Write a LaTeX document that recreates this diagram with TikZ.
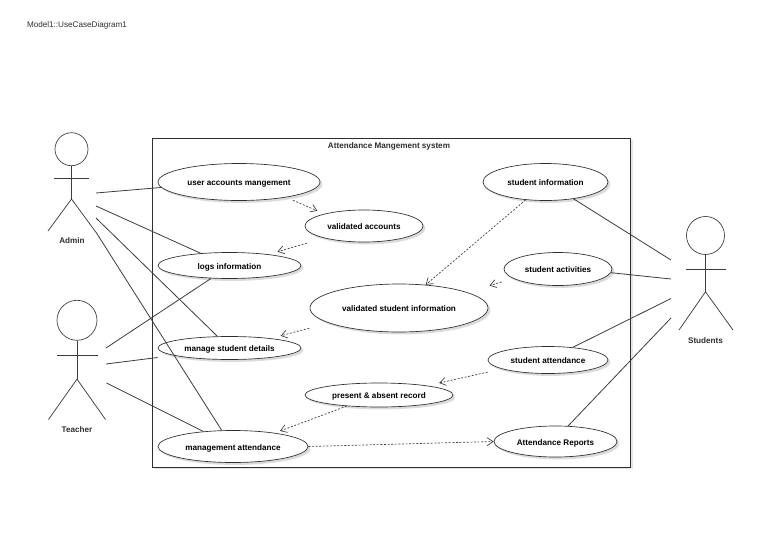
\documentclass[tikz,border=0pt]{standalone}
\usepackage{fontspec}
\setmainfont{Liberation Sans}
\usetikzlibrary{arrows.meta,shapes.geometric,shadows}
\definecolor{cLine}{HTML}{3C3C3C}
\definecolor{cFrame}{HTML}{2E2E2E}
\tikzset{
  uc/.style     = {ellipse, draw=cFrame, line width=0.5pt, fill=white, inner sep=0pt,
                   font=\fontsize{6.1}{7}\selectfont\bfseries, text height=5.4pt, text depth=0pt,
                   drop shadow={shadow xshift=1.8pt, shadow yshift=-1.8pt, fill=black, opacity=0.14}},
  sysbox/.style = {rectangle, draw=cFrame, line width=0.75pt, fill=white, inner sep=0pt,
                   minimum width=358.5pt, minimum height=246.75pt,
                   drop shadow={shadow xshift=1.8pt, shadow yshift=-1.8pt, fill=black, opacity=0.10}},
  actlab/.style = {font=\fontsize{6.1}{7}\selectfont\bfseries, text=cFrame, inner sep=0pt},
  head/.style   = {circle, draw=cLine, line width=0.5pt, inner sep=0pt},
  limb/.style   = {draw=cLine, line width=0.55pt},
  assoc/.style  = {draw=cLine, line width=0.6pt},
  dep/.style    = {-{Straight Barb[length=4.5pt,width=6pt]}, draw=cLine, line width=0.5pt,
                   dash pattern=on 1.5pt off 1.2pt},
}
\begin{document}
\begin{tikzpicture}[x=0.75pt,y=-0.75pt]
  \useasboundingbox (0,0) rectangle (768,543);
  \node[inner sep=0pt, font=\fontsize{6.1}{7}\selectfont, text=cFrame] (title) at (77,25.3) {Model1::UseCaseDiagram1};

  % ---- system frame ----
  \node[sysbox] (sys) at (391.75,302.5) {};
  \node[actlab] (sysname) at (389,146.3) {Attendance Mangement system};

  % ---- actors ----
  \node[head, minimum size=24.75pt] (admin) at (71.5,149.2) {};
  \draw[limb] (admin.south) -- ++(0,33) coordinate (adminhip);
  \draw[limb] (54,178) -- (89,178);
  \draw[limb] (48,231) -- (adminhip) -- (96.5,233);
  \node[actlab] (adminlab) at (72,240.8) {Admin};

  \node[head, minimum size=30pt] (teacher) at (77,320.3) {};
  \draw[limb] (teacher.south) -- ++(0,38.5) coordinate (teacherhip);
  \draw[limb] (57,355) -- (98,355);
  \draw[limb] (48.5,419.5) -- (teacherhip) -- (105.5,419.5);
  \node[actlab] (teacherlab) at (77,429.3) {Teacher};

  \node[head, minimum size=28.5pt] (stud) at (705.5,235.5) {};
  \draw[limb] (stud.south) -- ++(0,37) coordinate (studhip);
  \draw[limb] (686,269) -- (726,269);
  \draw[limb] (679,330) -- (studhip) -- (733,330);
  \node[actlab] (studlab) at (705.5,340.3) {Students};

  % ---- use cases, left ----
  \node[uc, minimum width=121.5pt, minimum height=27.75pt] (uam) at (239,182) {user accounts mangement};
  \node[uc, minimum width=107.25pt, minimum height=19.5pt] (logs) at (229.5,265.5) {logs information};
  \node[uc, minimum width=107.25pt, minimum height=17.25pt] (msd) at (229.5,348) {manage student details};
  \node[uc, minimum width=112.5pt, minimum height=24pt] (mat) at (233,446.5) {management attendance};

  % ---- use cases, middle ----
  \node[uc, minimum width=88.5pt, minimum height=24pt] (vac) at (364,226) {validated accounts};
  \node[uc, minimum width=133.5pt, minimum height=36pt] (vsi) at (399,308) {validated student information};
  \node[uc, minimum width=111pt, minimum height=18pt] (par) at (379,395) {present \& absent record};

  % ---- use cases, right ----
  \node[uc, minimum width=93.75pt, minimum height=27.75pt] (sinf) at (545.5,182) {student information};
  \node[uc, minimum width=81pt, minimum height=24.75pt] (sact) at (558,269) {student activities};
  \node[uc, minimum width=90pt, minimum height=20.25pt] (satt) at (548,360) {student attendance};
  \node[uc, minimum width=92.25pt, minimum height=23.25pt] (rep) at (555.5,441.5) {Attendance Reports};

  % ---- free ends at the actors ----
  \coordinate (ad1) at (96,193);
  \coordinate (ad2) at (96,206);
  \coordinate (ad3) at (96,218);
  \coordinate (ad4) at (96.5,233);
  \coordinate (te1) at (106,348);
  \coordinate (te2) at (106,364);
  \coordinate (te3) at (106.5,383);
  \coordinate (te2end) at (157.5,357.5);
  \coordinate (st1) at (671,260);
  \coordinate (st2) at (671,279);
  \coordinate (st3) at (671,298.5);
  \coordinate (st4) at (671,318);

  % ---- associations ----
  \draw[assoc] (ad1) -- (uam.184);
  \draw[assoc] (ad2) -- (logs.157);
  \draw[assoc] (ad3) -- (msd.136);
  \draw[assoc] (ad4) -- (mat.125);
  \draw[assoc] (te1) -- (logs.215);
  \draw[assoc] (te2) -- (te2end);
  \draw[assoc] (te3) -- (mat.153);
  \draw[assoc] (sinf.-31) -- (st1);
  \draw[assoc] (sact.-4) -- (st2);
  \draw[assoc] (satt.27) -- (st3);
  \draw[assoc] (rep.51) -- (st4);

  % ---- dependencies ----
  \draw[dep, shorten <=5.5pt, shorten >=5.7pt] (uam.-18.2) -- (vac.163);
  \draw[dep, shorten <=13.6pt, shorten >=7pt] (vac.197.4) -- (logs.16.3);
  \draw[dep] (sinf.222.8) -- (vsi.41.6);
  \draw[dep, shorten <=9pt, shorten >=17.5pt] (sact.192.9) -- (vsi.13.5);
  \draw[dep, shorten <=15pt, shorten >=7.3pt] (vsi.192.2) -- (msd.13.4);
  \draw[dep, shorten <=11pt, shorten >=9.2pt] (satt.191.4) -- (par.11.9);
  \draw[dep, shorten >=4.2pt] (par.199.4) -- (mat.18.9);
  \draw[dep] (mat.east) -- (rep.west);
\end{tikzpicture}
\end{document}
